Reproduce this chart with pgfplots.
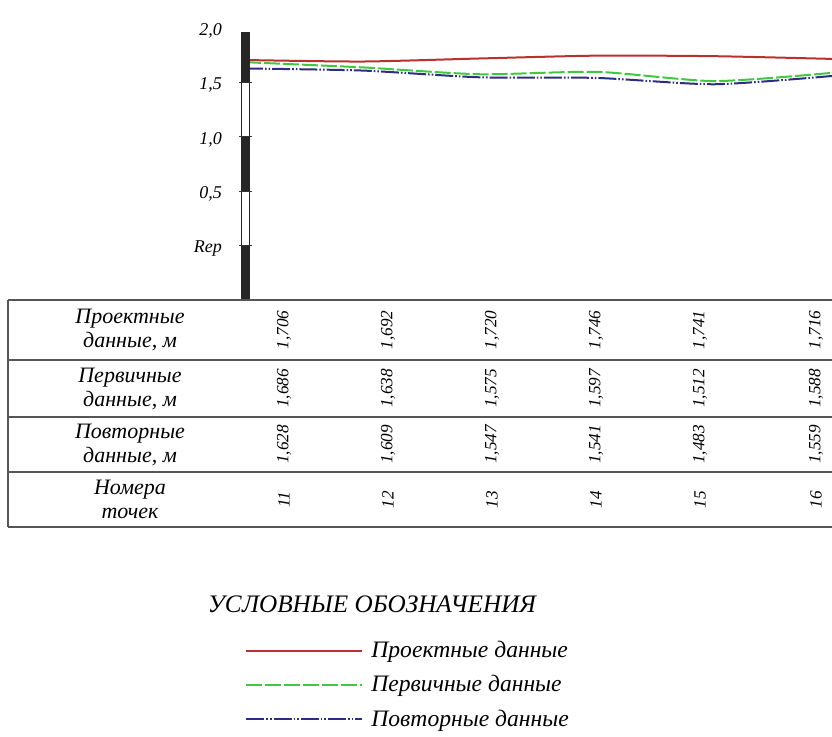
\documentclass[border=0pt]{standalone}
\usepackage{fontspec}
\setmainfont{Liberation Serif}
\usepackage{pgfplots}
\pgfplotsset{compat=1.18}
\definecolor{cred}{HTML}{B83030}
\definecolor{cgreen}{HTML}{40C840}
\definecolor{cblue}{HTML}{2E2E80}
\definecolor{tline}{HTML}{555555}
\newcommand\rowfont{\fontsize{11}{12}\selectfont\itshape}
\newcommand\numfont{\fontsize{8.6}{9}\selectfont\itshape}
\newcommand\col[5]{%
  \node[rotate=90,font=\numfont] at (#1,406) {#2};
  \node[rotate=90,font=\numfont] at (#1,347.5) {#3};
  \node[rotate=90,font=\numfont] at (#1,291.5) {#4};
  \node[rotate=90,font=\numfont] at (#1,236.5) {#5};}
\begin{document}
\begin{tikzpicture}[x=0.5pt,y=0.5pt]
\useasboundingbox (0,0) rectangle (832,736);
\clip (0,0) rectangle (832,736);
\begin{axis}[
  at={(122.5pt,218pt)}, anchor=south west,
  scale only axis, width=293.5pt, height=136pt,
  xmin=11, xmax=16, ymin=-0.5, ymax=2.0,
  hide x axis,
  axis line style={draw=none},
  major tick length=0pt,
  ytick pos=left,
  ytick={0,0.5,1,1.5,2},
  yticklabels={{\textit{Rep}},{\textit{0,5}},{\textit{1,0}},{\textit{1,5}},{\textit{2,0}}},
  yticklabel style={font=\fontsize{9}{10}\selectfont\itshape, xshift=-8pt, yshift=-1.5pt},
  legend style={at={(0,-1.245)}, anchor=north west, draw=none, fill=none,
    inner sep=0pt, row sep=5.5pt, font=\fontsize{11.8}{13}\selectfont\itshape,
    nodes={inner sep=1pt},
    /tikz/every odd column/.append style={column sep=3pt}},
  legend cell align=left,
  legend image code/.code={\draw[#1, line width=1pt] (0pt,0pt) -- (58pt,0pt);},
]
\addplot[cred, line width=1pt, smooth, tension=0.4] coordinates
  {(11,1.706) (12,1.692) (13,1.720) (14,1.746) (15,1.741) (16,1.716)};
\addlegendentry{Проектные данные}
\addplot[cgreen, line width=1pt, smooth, tension=0.4, dash pattern=on 8pt off 1.5pt] coordinates
  {(11,1.686) (12,1.638) (13,1.575) (14,1.597) (15,1.512) (16,1.588)};
\addlegendentry{Первичные данные}
\addplot[cblue, line width=1pt, smooth, tension=0.4, dash pattern=on 9pt off 1pt on 0.8pt off 1pt on 0.8pt off 1pt] coordinates
  {(11,1.628) (12,1.609) (13,1.547) (14,1.541) (15,1.483) (16,1.559)};
\addlegendentry{Повторные данные}
\end{axis}
% levelling staff (y axis)
\foreach \a/\b/\c in {436/490.4/black!85, 490.4/544.8/white, 544.8/599.2/black!85, 599.2/653.6/white, 653.6/704/black!85}
  {\filldraw[fill=\c, draw=black!85, line width=0.5pt] (241.5,\a) rectangle (249.5,\b);}
\foreach \y in {490.4,544.8,599.2,653.6}
  {\draw[black!80, line width=0.5pt] (239,\y) -- (252,\y);}
% table
\foreach \y in {436,376,319,264,209}
  {\draw[tline, line width=1.1pt] (8,\y) -- (840,\y);}
\draw[tline, line width=1.1pt] (8,436) -- (8,209);
\node[align=center, font=\rowfont] at (130,406) {Проектные\\данные, м};
\node[align=center, font=\rowfont] at (130,347.5) {Первичные\\данные, м};
\node[align=center, font=\rowfont] at (130,291.5) {Повторные\\данные, м};
\node[align=center, font=\rowfont] at (130,236.5) {Номера\\точек};
\col{284}{1,706}{1,686}{1,628}{11}
\col{388}{1,692}{1,638}{1,609}{12}
\col{492}{1,720}{1,575}{1,547}{13}
\col{596}{1,746}{1,597}{1,541}{14}
\col{700}{1,741}{1,512}{1,483}{15}
\col{816}{1,716}{1,588}{1,559}{16}
% legend title
\node[font=\fontsize{12.6}{13}\selectfont\itshape] at (372,132) {УСЛОВНЫЕ ОБОЗНАЧЕНИЯ};
\end{tikzpicture}
\end{document}
